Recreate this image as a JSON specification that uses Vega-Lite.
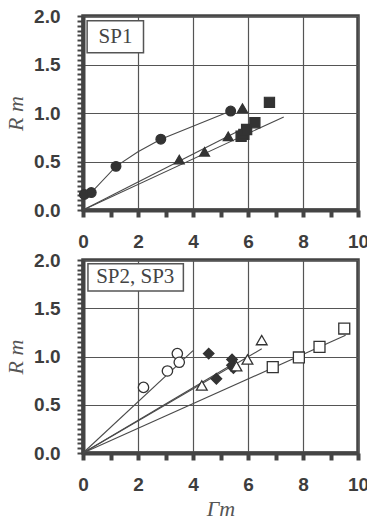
{
  "$schema": "https://vega.github.io/schema/vega-lite/v6.json",
  "background": "white",
  "padding": {"left": 2, "top": 5, "right": 0, "bottom": 0},
  "bounds": "flush",
  "spacing": 50,
  "datasets": {
    "one": [{}],
    "topPts": [
      {"s": "circle", "x": 0.05, "y": 0.16},
      {"s": "circle", "x": 0.3, "y": 0.18},
      {"s": "circle", "x": 1.2, "y": 0.45},
      {"s": "circle", "x": 2.83, "y": 0.73},
      {"s": "circle", "x": 5.37, "y": 1.02},
      {"s": "tri", "x": 3.5, "y": 0.52},
      {"s": "tri", "x": 4.42, "y": 0.6},
      {"s": "tri", "x": 5.28, "y": 0.76},
      {"s": "tri", "x": 5.8, "y": 1.05},
      {"s": "sq", "x": 5.75, "y": 0.76},
      {"s": "sq", "x": 5.85, "y": 0.78},
      {"s": "sq", "x": 5.95, "y": 0.83},
      {"s": "sq", "x": 6.25, "y": 0.9},
      {"s": "sq", "x": 6.78, "y": 1.11}
    ],
    "topLines": [
      {"g": "c", "x": 0.05, "y": 0.16},
      {"g": "c", "x": 0.3, "y": 0.18},
      {"g": "c", "x": 1.2, "y": 0.45},
      {"g": "c", "x": 2.0, "y": 0.6},
      {"g": "c", "x": 2.83, "y": 0.73},
      {"g": "c", "x": 5.37, "y": 1.02},
      {"g": "t", "x": 0, "y": 0},
      {"g": "t", "x": 6.1, "y": 0.88},
      {"g": "s", "x": 0, "y": 0},
      {"g": "s", "x": 7.3, "y": 0.96}
    ],
    "botPts": [
      {"s": "ocircle", "x": 2.2, "y": 0.68},
      {"s": "ocircle", "x": 3.07, "y": 0.85},
      {"s": "ocircle", "x": 3.43, "y": 1.03},
      {"s": "ocircle", "x": 3.5, "y": 0.94},
      {"s": "diamond", "x": 4.57, "y": 1.03},
      {"s": "diamond", "x": 4.85, "y": 0.77},
      {"s": "diamond", "x": 5.42, "y": 0.97},
      {"s": "diamond", "x": 5.42, "y": 0.91},
      {"s": "diamond", "x": 5.47, "y": 0.88},
      {"s": "otri", "x": 4.32, "y": 0.7},
      {"s": "otri", "x": 5.58, "y": 0.9},
      {"s": "otri", "x": 5.98, "y": 0.97},
      {"s": "otri", "x": 6.5, "y": 1.17},
      {"s": "osq", "x": 6.9, "y": 0.89},
      {"s": "osq", "x": 7.85, "y": 0.99},
      {"s": "osq", "x": 8.6, "y": 1.1},
      {"s": "osq", "x": 9.5, "y": 1.29}
    ],
    "botLines": [
      {"g": "c", "x": 0, "y": 0},
      {"g": "c", "x": 4.0, "y": 1.06},
      {"g": "d", "x": 0, "y": 0},
      {"g": "d", "x": 5.5, "y": 0.93},
      {"g": "t", "x": 0, "y": 0},
      {"g": "t", "x": 6.5, "y": 1.08},
      {"g": "q", "x": 0, "y": 0},
      {"g": "q", "x": 9.55, "y": 1.22}
    ]
  },
  "vconcat": [
    {
      "width": 275,
      "height": 194,
      "layer": [
        {
          "data": {"name": "topLines"},
          "mark": {"type": "line", "color": "#4a4a4a", "strokeWidth": 1.1},
          "encoding": {
            "x": {"field": "x", "type": "quantitative", "scale": {"domain": [0, 10], "nice": false},
              "axis": {"title": null, "values": [0,1,2,3,4,5,6,7,8,9,10], "labelExpr": "datum.value % 2 == 0 ? format(datum.value, 'd') : ''", "gridOpacity": {"condition": {"test": "datum.value % 2 == 0", "value": 1}, "value": 0}, "tickSize": 7, "tickWidth": 4, "labelPadding": 15, "labelOverlap": false, "labelFlush": false}},
            "y": {"field": "y", "type": "quantitative", "scale": {"domain": [0, 2], "nice": false},
              "axis": {"title": "R m", "values": [0,0.05,0.1,0.15,0.2,0.25,0.3,0.35,0.4,0.45,0.5,0.55,0.6,0.65,0.7,0.75,0.8,0.85,0.9,0.95,1,1.05,1.1,1.15,1.2,1.25,1.3,1.35,1.4,1.45,1.5,1.55,1.6,1.65,1.7,1.75,1.8,1.85,1.9,1.95,2], "labelExpr": "abs(datum.value*2 - round(datum.value*2)) < 0.001 ? format(datum.value, '.1f') : ''", "gridOpacity": {"condition": {"test": "abs(datum.value*2 - round(datum.value*2)) < 0.001", "value": 1}, "value": 0}, "tickSize": 6, "tickWidth": 2, "labelPadding": 17, "titlePadding": 6, "labelOverlap": false, "labelFlush": false}},
            "detail": {"field": "g", "type": "nominal"}
          }
        },
        {
          "data": {"name": "topPts"},
          "mark": {"type": "point", "filled": true, "stroke": "#333", "strokeWidth": 1.2, "opacity": 1},
          "encoding": {
            "x": {"field": "x", "type": "quantitative", "scale": {"domain": [0, 10], "nice": false},
              "axis": {"title": null, "values": [0,1,2,3,4,5,6,7,8,9,10], "labelExpr": "datum.value % 2 == 0 ? format(datum.value, 'd') : ''", "gridOpacity": {"condition": {"test": "datum.value % 2 == 0", "value": 1}, "value": 0}, "tickSize": 7, "tickWidth": 4, "labelPadding": 15, "labelOverlap": false, "labelFlush": false}},
            "y": {"field": "y", "type": "quantitative", "scale": {"domain": [0, 2], "nice": false},
              "axis": {"title": "R m", "values": [0,0.05,0.1,0.15,0.2,0.25,0.3,0.35,0.4,0.45,0.5,0.55,0.6,0.65,0.7,0.75,0.8,0.85,0.9,0.95,1,1.05,1.1,1.15,1.2,1.25,1.3,1.35,1.4,1.45,1.5,1.55,1.6,1.65,1.7,1.75,1.8,1.85,1.9,1.95,2], "labelExpr": "abs(datum.value*2 - round(datum.value*2)) < 0.001 ? format(datum.value, '.1f') : ''", "gridOpacity": {"condition": {"test": "abs(datum.value*2 - round(datum.value*2)) < 0.001", "value": 1}, "value": 0}, "tickSize": 6, "tickWidth": 2, "labelPadding": 17, "titlePadding": 6, "labelOverlap": false, "labelFlush": false}},
            "shape": {"field": "s", "type": "nominal", "scale": {"domain": ["circle", "tri", "sq", "ocircle", "diamond", "otri", "osq"], "range": ["circle", "triangle-up", "square", "circle", "diamond", "triangle-up", "square"]}, "legend": null},
            "fill": {"field": "s", "type": "nominal", "scale": {"domain": ["circle", "tri", "sq", "ocircle", "diamond", "otri", "osq"], "range": ["#333", "#333", "#333", "white", "#333", "white", "white"]}, "legend": null},
            "size": {"field": "s", "type": "nominal", "scale": {"domain": ["circle", "tri", "sq", "ocircle", "diamond", "otri", "osq"], "range": [95, 120, 95, 105, 110, 130, 100]}, "legend": null}
          }
        },
        {
          "data": {"name": "one"},
          "mark": {"type": "rect", "fill": "white", "stroke": "#555", "strokeWidth": 1.5},
          "encoding": {
            "x": {"datum": 0.15, "type": "quantitative", "scale": {"domain": [0, 10], "nice": false},
              "axis": {"title": null, "values": [0,1,2,3,4,5,6,7,8,9,10], "labelExpr": "datum.value % 2 == 0 ? format(datum.value, 'd') : ''", "gridOpacity": {"condition": {"test": "datum.value % 2 == 0", "value": 1}, "value": 0}, "tickSize": 7, "tickWidth": 4, "labelPadding": 15, "labelOverlap": false, "labelFlush": false}},
            "x2": {"datum": 2.2},
            "y": {"datum": 1.95, "type": "quantitative", "scale": {"domain": [0, 2], "nice": false},
              "axis": {"title": "R m", "values": [0,0.05,0.1,0.15,0.2,0.25,0.3,0.35,0.4,0.45,0.5,0.55,0.6,0.65,0.7,0.75,0.8,0.85,0.9,0.95,1,1.05,1.1,1.15,1.2,1.25,1.3,1.35,1.4,1.45,1.5,1.55,1.6,1.65,1.7,1.75,1.8,1.85,1.9,1.95,2], "labelExpr": "abs(datum.value*2 - round(datum.value*2)) < 0.001 ? format(datum.value, '.1f') : ''", "gridOpacity": {"condition": {"test": "abs(datum.value*2 - round(datum.value*2)) < 0.001", "value": 1}, "value": 0}, "tickSize": 6, "tickWidth": 2, "labelPadding": 17, "titlePadding": 6, "labelOverlap": false, "labelFlush": false}},
            "y2": {"datum": 1.62}
          }
        },
        {
          "data": {"name": "one"},
          "mark": {"type": "text", "font": "Liberation Serif", "fontSize": 21, "color": "#444", "align": "center", "baseline": "middle"},
          "encoding": {
            "x": {"datum": 1.18, "type": "quantitative", "scale": {"domain": [0, 10], "nice": false},
              "axis": {"title": null, "values": [0,1,2,3,4,5,6,7,8,9,10], "labelExpr": "datum.value % 2 == 0 ? format(datum.value, 'd') : ''", "gridOpacity": {"condition": {"test": "datum.value % 2 == 0", "value": 1}, "value": 0}, "tickSize": 7, "tickWidth": 4, "labelPadding": 15, "labelOverlap": false, "labelFlush": false}},
            "y": {"datum": 1.78, "type": "quantitative", "scale": {"domain": [0, 2], "nice": false},
              "axis": {"title": "R m", "values": [0,0.05,0.1,0.15,0.2,0.25,0.3,0.35,0.4,0.45,0.5,0.55,0.6,0.65,0.7,0.75,0.8,0.85,0.9,0.95,1,1.05,1.1,1.15,1.2,1.25,1.3,1.35,1.4,1.45,1.5,1.55,1.6,1.65,1.7,1.75,1.8,1.85,1.9,1.95,2], "labelExpr": "abs(datum.value*2 - round(datum.value*2)) < 0.001 ? format(datum.value, '.1f') : ''", "gridOpacity": {"condition": {"test": "abs(datum.value*2 - round(datum.value*2)) < 0.001", "value": 1}, "value": 0}, "tickSize": 6, "tickWidth": 2, "labelPadding": 17, "titlePadding": 6, "labelOverlap": false, "labelFlush": false}},
            "text": {"value": "SP1"}
          }
        }
      ]
    },
    {
      "width": 275,
      "height": 193,
      "layer": [
        {
          "data": {"name": "botLines"},
          "mark": {"type": "line", "color": "#4a4a4a", "strokeWidth": 1.1},
          "encoding": {
            "x": {"field": "x", "type": "quantitative", "scale": {"domain": [0, 10], "nice": false},
              "axis": {"title": "Γm", "titlePadding": 4, "values": [0,1,2,3,4,5,6,7,8,9,10], "labelExpr": "datum.value % 2 == 0 ? format(datum.value, 'd') : ''", "gridOpacity": {"condition": {"test": "datum.value % 2 == 0", "value": 1}, "value": 0}, "tickSize": 7, "tickWidth": 4, "labelPadding": 15, "labelOverlap": false, "labelFlush": false}},
            "y": {"field": "y", "type": "quantitative", "scale": {"domain": [0, 2], "nice": false},
              "axis": {"title": "R m", "values": [0,0.05,0.1,0.15,0.2,0.25,0.3,0.35,0.4,0.45,0.5,0.55,0.6,0.65,0.7,0.75,0.8,0.85,0.9,0.95,1,1.05,1.1,1.15,1.2,1.25,1.3,1.35,1.4,1.45,1.5,1.55,1.6,1.65,1.7,1.75,1.8,1.85,1.9,1.95,2], "labelExpr": "abs(datum.value*2 - round(datum.value*2)) < 0.001 ? format(datum.value, '.1f') : ''", "gridOpacity": {"condition": {"test": "abs(datum.value*2 - round(datum.value*2)) < 0.001", "value": 1}, "value": 0}, "tickSize": 6, "tickWidth": 2, "labelPadding": 17, "titlePadding": 6, "labelOverlap": false, "labelFlush": false}},
            "detail": {"field": "g", "type": "nominal"}
          }
        },
        {
          "data": {"name": "botPts"},
          "mark": {"type": "point", "filled": true, "stroke": "#333", "strokeWidth": 1.3, "opacity": 1},
          "encoding": {
            "x": {"field": "x", "type": "quantitative", "scale": {"domain": [0, 10], "nice": false},
              "axis": {"title": "Γm", "titlePadding": 4, "values": [0,1,2,3,4,5,6,7,8,9,10], "labelExpr": "datum.value % 2 == 0 ? format(datum.value, 'd') : ''", "gridOpacity": {"condition": {"test": "datum.value % 2 == 0", "value": 1}, "value": 0}, "tickSize": 7, "tickWidth": 4, "labelPadding": 15, "labelOverlap": false, "labelFlush": false}},
            "y": {"field": "y", "type": "quantitative", "scale": {"domain": [0, 2], "nice": false},
              "axis": {"title": "R m", "values": [0,0.05,0.1,0.15,0.2,0.25,0.3,0.35,0.4,0.45,0.5,0.55,0.6,0.65,0.7,0.75,0.8,0.85,0.9,0.95,1,1.05,1.1,1.15,1.2,1.25,1.3,1.35,1.4,1.45,1.5,1.55,1.6,1.65,1.7,1.75,1.8,1.85,1.9,1.95,2], "labelExpr": "abs(datum.value*2 - round(datum.value*2)) < 0.001 ? format(datum.value, '.1f') : ''", "gridOpacity": {"condition": {"test": "abs(datum.value*2 - round(datum.value*2)) < 0.001", "value": 1}, "value": 0}, "tickSize": 6, "tickWidth": 2, "labelPadding": 17, "titlePadding": 6, "labelOverlap": false, "labelFlush": false}},
            "shape": {"field": "s", "type": "nominal", "scale": {"domain": ["circle", "tri", "sq", "ocircle", "diamond", "otri", "osq"], "range": ["circle", "triangle-up", "square", "circle", "diamond", "triangle-up", "square"]}, "legend": null},
            "fill": {"field": "s", "type": "nominal", "scale": {"domain": ["circle", "tri", "sq", "ocircle", "diamond", "otri", "osq"], "range": ["#333", "#333", "#333", "white", "#333", "white", "white"]}, "legend": null},
            "size": {"field": "s", "type": "nominal", "scale": {"domain": ["circle", "tri", "sq", "ocircle", "diamond", "otri", "osq"], "range": [95, 120, 95, 105, 110, 130, 100]}, "legend": null}
          }
        },
        {
          "data": {"name": "one"},
          "mark": {"type": "rect", "fill": "white", "stroke": "#555", "strokeWidth": 1.5},
          "encoding": {
            "x": {"datum": 0.18, "type": "quantitative", "scale": {"domain": [0, 10], "nice": false},
              "axis": {"title": "Γm", "titlePadding": 4, "values": [0,1,2,3,4,5,6,7,8,9,10], "labelExpr": "datum.value % 2 == 0 ? format(datum.value, 'd') : ''", "gridOpacity": {"condition": {"test": "datum.value % 2 == 0", "value": 1}, "value": 0}, "tickSize": 7, "tickWidth": 4, "labelPadding": 15, "labelOverlap": false, "labelFlush": false}},
            "x2": {"datum": 3.65},
            "y": {"datum": 1.96, "type": "quantitative", "scale": {"domain": [0, 2], "nice": false},
              "axis": {"title": "R m", "values": [0,0.05,0.1,0.15,0.2,0.25,0.3,0.35,0.4,0.45,0.5,0.55,0.6,0.65,0.7,0.75,0.8,0.85,0.9,0.95,1,1.05,1.1,1.15,1.2,1.25,1.3,1.35,1.4,1.45,1.5,1.55,1.6,1.65,1.7,1.75,1.8,1.85,1.9,1.95,2], "labelExpr": "abs(datum.value*2 - round(datum.value*2)) < 0.001 ? format(datum.value, '.1f') : ''", "gridOpacity": {"condition": {"test": "abs(datum.value*2 - round(datum.value*2)) < 0.001", "value": 1}, "value": 0}, "tickSize": 6, "tickWidth": 2, "labelPadding": 17, "titlePadding": 6, "labelOverlap": false, "labelFlush": false}},
            "y2": {"datum": 1.68}
          }
        },
        {
          "data": {"name": "one"},
          "mark": {"type": "text", "font": "Liberation Serif", "fontSize": 21, "color": "#444", "align": "center", "baseline": "middle"},
          "encoding": {
            "x": {"datum": 1.9, "type": "quantitative", "scale": {"domain": [0, 10], "nice": false},
              "axis": {"title": "Γm", "titlePadding": 4, "values": [0,1,2,3,4,5,6,7,8,9,10], "labelExpr": "datum.value % 2 == 0 ? format(datum.value, 'd') : ''", "gridOpacity": {"condition": {"test": "datum.value % 2 == 0", "value": 1}, "value": 0}, "tickSize": 7, "tickWidth": 4, "labelPadding": 15, "labelOverlap": false, "labelFlush": false}},
            "y": {"datum": 1.82, "type": "quantitative", "scale": {"domain": [0, 2], "nice": false},
              "axis": {"title": "R m", "values": [0,0.05,0.1,0.15,0.2,0.25,0.3,0.35,0.4,0.45,0.5,0.55,0.6,0.65,0.7,0.75,0.8,0.85,0.9,0.95,1,1.05,1.1,1.15,1.2,1.25,1.3,1.35,1.4,1.45,1.5,1.55,1.6,1.65,1.7,1.75,1.8,1.85,1.9,1.95,2], "labelExpr": "abs(datum.value*2 - round(datum.value*2)) < 0.001 ? format(datum.value, '.1f') : ''", "gridOpacity": {"condition": {"test": "abs(datum.value*2 - round(datum.value*2)) < 0.001", "value": 1}, "value": 0}, "tickSize": 6, "tickWidth": 2, "labelPadding": 17, "titlePadding": 6, "labelOverlap": false, "labelFlush": false}},
            "text": {"value": "SP2, SP3"}
          }
        }
      ]
    }
  ],
  "config": {
    "view": {"stroke": "#444", "strokeWidth": 3.5},
    "axis": {
      "domainColor": "#444",
      "domainWidth": 4,
      "tickColor": "#444",
      "labelFont": "Liberation Sans",
      "labelFontWeight": "bold",
      "labelFontSize": 19,
      "labelColor": "#3d3d3d",
      "titleFont": "Liberation Serif",
      "titleFontStyle": "italic",
      "titleFontWeight": "normal",
      "titleFontSize": 22,
      "titleColor": "#555",
      "gridColor": "#555",
      "gridWidth": 1.2
    }
  }
}
